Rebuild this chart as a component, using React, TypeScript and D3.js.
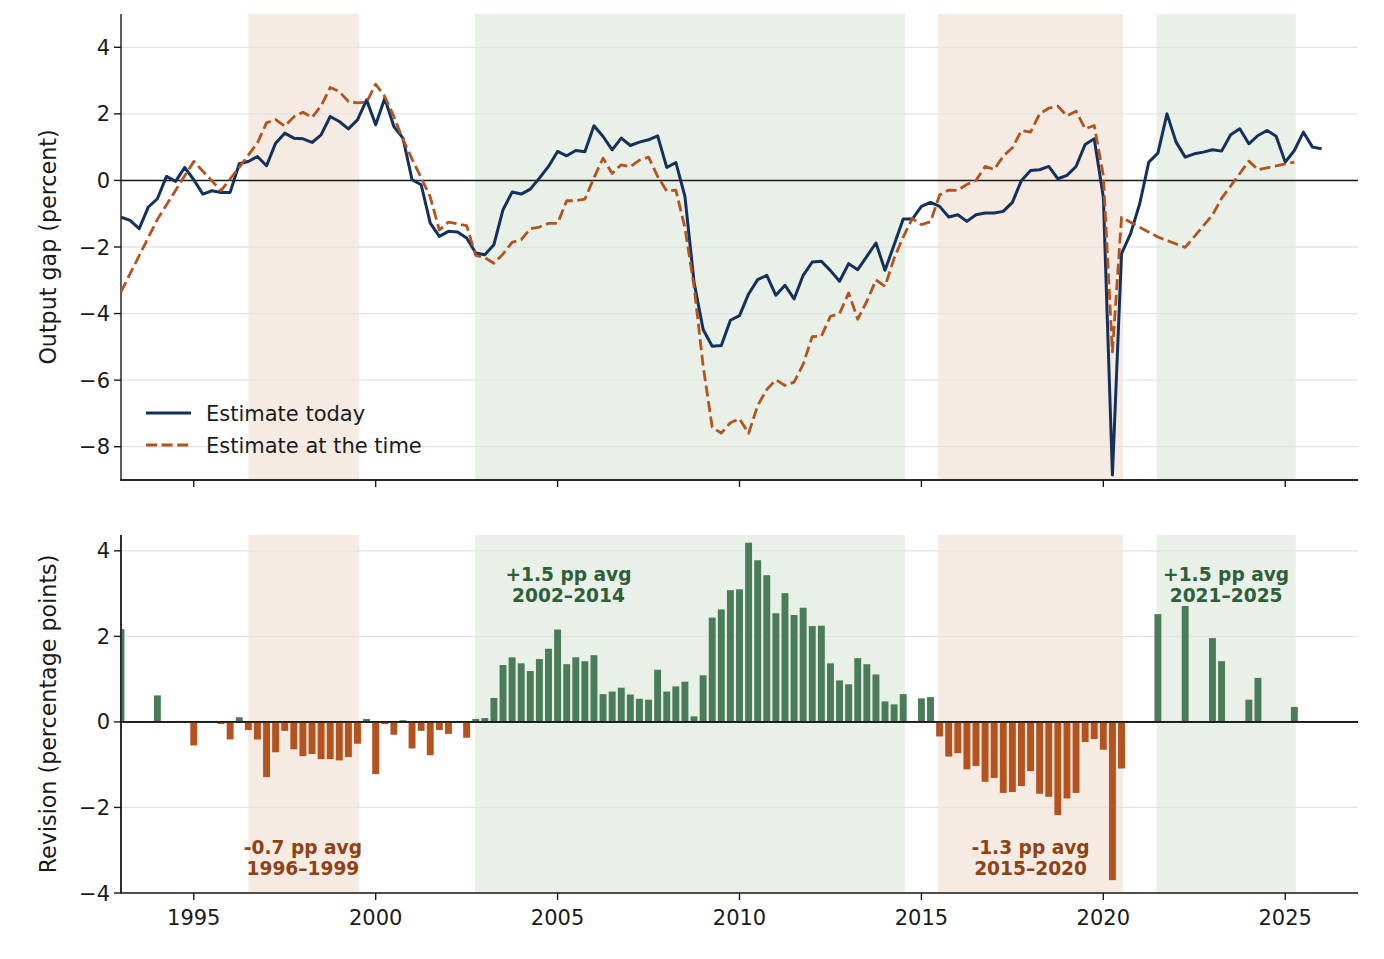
import * as d3 from 'd3'

// quarterly output gap, "estimate today", from 1993Q1 to 2026Q1
const firstYear = 1993
const estimateToday: number[] = [
  -1.10, -1.20, -1.45, -0.80, -0.55, 0.12, -0.03, 0.39, 0.02, -0.41, -0.31, -0.36,
  -0.36, 0.50, 0.57, 0.72, 0.44, 1.12, 1.42, 1.27, 1.25, 1.14, 1.37, 1.92,
  1.77, 1.55, 1.82, 2.42, 1.67, 2.47, 1.62, 1.27, 0.02, -0.13, -1.28, -1.68,
  -1.53, -1.55, -1.73, -2.18, -2.23, -1.93, -0.88, -0.35, -0.41, -0.26, 0.07, 0.42,
  0.87, 0.74, 0.90, 0.86, 1.64, 1.32, 0.92, 1.27, 1.05, 1.15, 1.22, 1.34,
  0.39, 0.54, -0.48, -3.05, -4.48, -4.98, -4.96, -4.20, -4.06, -3.41, -2.98, -2.85,
  -3.45, -3.15, -3.56, -2.85, -2.45, -2.43, -2.71, -3.03, -2.50, -2.68, -2.28, -1.88,
  -2.70, -1.93, -1.16, -1.16, -0.78, -0.66, -0.78, -1.10, -1.03, -1.23, -1.03, -0.98,
  -0.98, -0.93, -0.66, 0.00, 0.30, 0.32, 0.42, 0.05, 0.15, 0.42, 1.08, 1.25,
  -0.50, -8.85, -2.20, -1.60, -0.70, 0.55, 0.82, 2.00, 1.15, 0.70, 0.80, 0.85,
  0.92, 0.88, 1.37, 1.55, 1.10, 1.35, 1.50, 1.33, 0.55, 0.90, 1.45, 1.00, 0.95,
]

// quarters for which a real-time vintage exists
const vintageDates: number[] = [
  1993.0, 1994.0, 1995.0, 1995.75, 1996.0, 1996.25, 1996.5, 1996.75,
  1997.0, 1997.25, 1997.5, 1997.75, 1998.0, 1998.25, 1998.5, 1998.75,
  1999.0, 1999.25, 1999.5, 1999.75, 2000.0, 2000.25, 2000.5, 2000.75,
  2001.0, 2001.25, 2001.5, 2001.75, 2002.0, 2002.5, 2002.75,
  2003.0, 2003.25, 2003.5, 2003.75, 2004.0, 2004.25, 2004.5, 2004.75,
  2005.0, 2005.25, 2005.5, 2005.75, 2006.0, 2006.25, 2006.5, 2006.75,
  2007.0, 2007.25, 2007.5, 2007.75, 2008.0, 2008.25, 2008.5, 2008.75,
  2009.0, 2009.25, 2009.5, 2009.75, 2010.0, 2010.25, 2010.5, 2010.75,
  2011.0, 2011.25, 2011.5, 2011.75, 2012.0, 2012.25, 2012.5, 2012.75,
  2013.0, 2013.25, 2013.5, 2013.75, 2014.0, 2014.25, 2014.5, 2014.75,
  2015.0, 2015.25, 2015.5, 2015.75, 2016.0, 2016.25, 2016.5, 2016.75,
  2017.0, 2017.25, 2017.5, 2017.75, 2018.0, 2018.25, 2018.5, 2018.75,
  2019.0, 2019.25, 2019.5, 2019.75, 2020.0, 2020.25, 2020.5,
  2021.5, 2022.25, 2023.0, 2023.25, 2024.0, 2024.25, 2025.25,
]

// output gap as estimated at the time
const estimateAtTime: number[] = [
  -3.35, -1.17, 0.57, -0.31, 0.05, 0.39, 0.76, 1.13,
  1.73, 1.83, 1.63, 1.91, 2.05, 1.89, 2.24, 2.79,
  2.67, 2.37, 2.33, 2.35, 2.89, 2.52, 1.92, 1.23,
  0.64, 0.08, -0.50, -1.49, -1.25, -1.36, -2.25,
  -2.32, -2.49, -2.21, -1.86, -1.78, -1.45, -1.40, -1.29,
  -1.29, -0.61, -0.61, -0.56, 0.08, 0.67, 0.21, 0.47,
  0.41, 0.61, 0.70, 0.12, -0.32, -0.29, -1.42, -3.18,
  -5.57, -7.42, -7.59, -7.28, -7.16, -7.60, -6.76, -6.28,
  -5.99, -6.16, -6.06, -5.52, -4.69, -4.68, -4.08, -4.00,
  -3.38, -4.17, -3.63, -2.99, -3.18, -2.34, -1.70, -1.14,
  -1.33, -1.24, -0.44, -0.29, -0.30, -0.12, 0.00, 0.42,
  0.33, 0.73, 0.98, 1.50, 1.45, 2.00, 2.17, 2.23,
  1.94, 2.08, 1.55, 1.65, 0.15, -5.15, -1.11,
  -1.70, -2.01, -1.04, -0.54, 0.58, 0.32, 0.55,
]

// revision (today minus at the time), percentage points
const revisions: number[] = [
  2.17, 0.62, -0.55, -0.05, -0.41, 0.11, -0.19, -0.41,
  -1.29, -0.71, -0.21, -0.64, -0.80, -0.75, -0.87, -0.87,
  -0.90, -0.82, -0.51, 0.07, -1.22, -0.05, -0.30, 0.04,
  -0.62, -0.21, -0.78, -0.19, -0.28, -0.37, 0.07,
  0.09, 0.56, 1.33, 1.51, 1.37, 1.19, 1.47, 1.71,
  2.16, 1.35, 1.51, 1.42, 1.56, 0.65, 0.71, 0.80,
  0.64, 0.54, 0.52, 1.22, 0.71, 0.83, 0.94, 0.13,
  1.09, 2.44, 2.63, 3.08, 3.10, 4.19, 3.78, 3.43,
  2.54, 3.01, 2.50, 2.67, 2.24, 2.25, 1.37, 0.97,
  0.88, 1.49, 1.35, 1.11, 0.48, 0.41, 0.65, -0.02,
  0.55, 0.58, -0.34, -0.81, -0.73, -1.11, -1.03, -1.40,
  -1.31, -1.66, -1.64, -1.50, -1.15, -1.68, -1.75, -2.18,
  -1.79, -1.66, -0.47, -0.40, -0.65, -3.70, -1.09,
  2.52, 2.71, 1.96, 1.42, 0.52, 1.03, 0.35,
]

// shaded periods
const periodStarts = [1996.5, 2002.73, 2015.45, 2021.46]
const periodEnds = [1999.55, 2014.55, 2020.54, 2025.29]
const periodSigns = [-1, 1, -1, 1]

// period annotations
const noteFirst = ['-0.7 pp avg', '+1.5 pp avg', '-1.3 pp avg', '+1.5 pp avg']
const noteSecond = ['1996–1999', '2002–2014', '2015–2020', '2021–2025']
const noteX = [1998, 2005.3, 2018, 2023.375]
const noteY = [-2.92, 3.44, -2.92, 3.44]

const xTicks = [1995, 2000, 2005, 2010, 2015, 2020, 2025]
const topTicks = [-8, -6, -4, -2, 0, 2, 4]
const bottomTicks = [-4, -2, 0, 2, 4]

const NAVY = '#14305c'
const RUST = '#b5531e'
const GREEN = '#4a7c59'
const TAN_BG = '#f5ebe3'
const GREEN_BG = '#e9f0e8'
const INK = '#1a1a1a'
const FONT = '"DejaVu Sans", sans-serif'
const DASH = '11,4.6'

const left = 121, right = 1358
const x = d3.scaleLinear().domain([1993, 2027]).range([left, right])
const yTop = d3.scaleLinear().domain([-9, 5]).range([480, 14])
const yBot = d3.scaleLinear().domain([-4, 4.37]).range([893, 535])

const fmt = d3.format('d')

function Panel({ y, ticks, labels, label }: { y: d3.ScaleLinear<number, number>; ticks: number[]; labels: boolean; label: string }) {
  const [y0, y1] = y.range()
  return (
    <g>
      {periodStarts.map((s, i) => (
        <rect key={'p' + i} x={x(s)} width={x(periodEnds[i]) - x(s)} y={y1} height={y0 - y1}
          fill={periodSigns[i] > 0 ? GREEN_BG : TAN_BG} />
      ))}
      {ticks.map(t => (
        <line key={'g' + t} x1={left} x2={right} y1={y(t)} y2={y(t)} stroke="#e3e3e3" strokeWidth={1.3} />
      ))}
      <line x1={left} x2={right} y1={y(0)} y2={y(0)} stroke={INK} strokeWidth={1.6} />
      <line x1={left} x2={left} y1={y1} y2={y0 + 0.6} stroke={INK} strokeWidth={1.4} />
      <line x1={left - 0.6} x2={right} y1={y0} y2={y0} stroke={INK} strokeWidth={1.4} />
      {ticks.map(t => (
        <g key={'yt' + t}>
          <line x1={left - 7} x2={left} y1={y(t)} y2={y(t)} stroke={INK} strokeWidth={1.4} />
          <text x={left - 11} y={y(t)} dy="0.36em" textAnchor="end" fontSize={21} fill={INK}>
            {fmt(t).replace('-', '\u2212')}
          </text>
        </g>
      ))}
      {xTicks.map(t => (
        <g key={'xt' + t}>
          <line x1={x(t)} x2={x(t)} y1={y0} y2={y0 + 7} stroke={INK} strokeWidth={1.4} />
          {labels && (
            <text x={x(t)} y={y0 + 24} dy="0.36em" textAnchor="middle" fontSize={21} fill={INK}>{fmt(t)}</text>
          )}
        </g>
      ))}
      <text transform={`translate(48,${(y0 + y1) / 2}) rotate(-90)`} dy="0.36em" textAnchor="middle"
        fontSize={22.2} fill={INK}>{label}</text>
    </g>
  )
}

export default function App() {
  const todayPts: [number, number][] = estimateToday.map((v, i) => [firstYear + i / 4, v])
  const timePts: [number, number][] = estimateAtTime.map((v, i) => [vintageDates[i], v])
  const line = d3.line<[number, number]>().x(d => x(d[0])).y(d => yTop(d[1]))
  const barW = x(1993.19) - x(1993)

  return (
    <svg width={1384} height={959} style={{ position: 'absolute', left: 0, top: 0, background: '#fff' }}
      fontFamily={FONT}>
      <defs>
        <clipPath id="clipTop"><rect x={left} y={14} width={right - left} height={466} /></clipPath>
        <clipPath id="clipBot"><rect x={left} y={535} width={right - left} height={358} /></clipPath>
      </defs>

      <Panel y={yTop} ticks={topTicks} labels={false} label="Output gap (percent)" />
      <g clipPath="url(#clipTop)">
        <path d={line(todayPts) ?? ''} fill="none" stroke={NAVY} strokeWidth={3} strokeLinejoin="round" />
        <path d={line(timePts) ?? ''} fill="none" stroke={RUST} strokeWidth={2.8} strokeDasharray={DASH}
          strokeLinejoin="round" />
      </g>
      <line x1={left - 0.6} x2={right} y1={480} y2={480} stroke={INK} strokeWidth={1.4} />

      {/* legend */}
      <g>
        <line x1={146} x2={191} y1={413} y2={413} stroke={NAVY} strokeWidth={3} />
        <text x={206} y={413} dy="0.36em" fontSize={21} fill={INK}>Estimate today</text>
        <line x1={146} x2={191} y1={445} y2={445} stroke={RUST} strokeWidth={2.8} strokeDasharray={DASH} />
        <text x={206} y={445} dy="0.36em" fontSize={21} fill={INK}>Estimate at the time</text>
      </g>

      <Panel y={yBot} ticks={bottomTicks} labels={true} label="Revision (percentage points)" />
      <g clipPath="url(#clipBot)">
        {revisions.map((r, i) => (
          <rect key={'b' + i} x={x(vintageDates[i]) - barW / 2} width={barW}
            y={yBot(Math.max(0, r))} height={Math.abs(yBot(r) - yBot(0))}
            fill={r >= 0 ? GREEN : RUST} />
        ))}
      </g>
      <line x1={left} x2={right} y1={yBot(0)} y2={yBot(0)} stroke={INK} strokeWidth={1.6} />
      <line x1={left} x2={left} y1={535} y2={893} stroke={INK} strokeWidth={1.4} />

      {noteFirst.map((t, i) => (
        <text key={'n' + i} x={x(noteX[i])} y={yBot(noteY[i])} dy="0.36em" textAnchor="middle"
          fontSize={18.6} fontWeight="bold" fill={periodSigns[i] > 0 ? '#2e5e3a' : '#8f4216'}>
          <tspan x={x(noteX[i])}>{t}</tspan>
          <tspan x={x(noteX[i])} dy={21}>{noteSecond[i]}</tspan>
        </text>
      ))}
    </svg>
  )
}
